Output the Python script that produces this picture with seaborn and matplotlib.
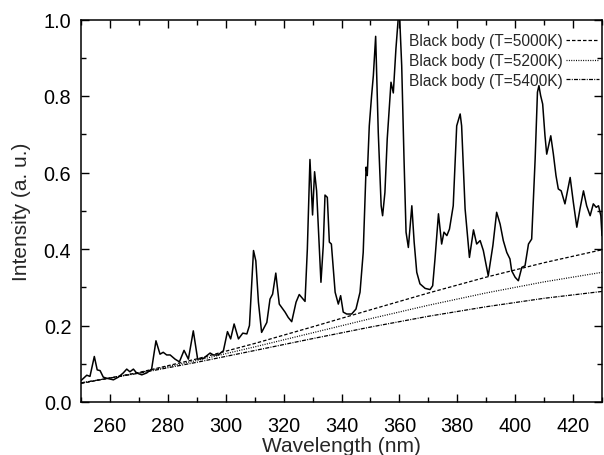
import matplotlib
matplotlib.use("Agg")
import matplotlib.pyplot as plt
import seaborn as sns
import pandas as pd
from matplotlib.ticker import MultipleLocator

# Measured emission spectrum
wavelength = [
    250.0, 252.0, 253.1, 254.6, 255.6, 256.6, 257.7, 258.9, 260.0, 261.2,
    262.9, 264.6, 265.8, 266.9, 268.1, 269.2, 271.0, 272.7, 274.4, 275.9,
    277.3, 278.4, 279.6, 280.8, 282.5, 284.0, 285.6, 287.1, 288.8, 290.3,
    292.3, 294.6, 295.7, 297.4, 299.2, 300.6, 301.7, 302.9, 304.4, 305.9,
    307.3, 308.2, 309.6, 310.4, 311.3, 312.4, 314.2, 315.3, 316.2, 317.3,
    318.5, 320.5, 321.6, 322.8, 324.3, 325.4, 327.4, 328.2, 329.1, 330.0,
    330.7, 331.4, 332.9, 333.7, 334.3, 335.1, 335.8, 336.5, 337.8, 338.9,
    339.7, 340.6, 341.8, 343.5, 345.0, 346.4, 347.5, 348.5, 348.9, 349.6,
    350.4, 351.0, 351.8, 352.7, 353.7, 354.2, 355.0, 355.8, 356.7, 357.1,
    357.9, 358.8, 359.5, 359.9, 360.8, 361.6, 362.3, 363.1, 364.3, 365.1,
    366.0, 367.1, 368.9, 370.6, 371.5, 372.3, 373.5, 374.6, 375.4, 376.4,
    377.3, 378.6, 379.8, 381.0, 381.5, 382.7, 384.2, 385.6, 386.7, 387.9,
    389.0, 390.7, 392.3, 393.6, 394.8, 395.9, 397.1, 398.2, 398.8, 400.0,
    401.1, 402.3, 403.4, 404.6, 405.7, 406.9, 407.7, 408.2, 408.8, 409.5,
    410.3, 410.9, 412.3, 413.2, 414.1, 414.9, 415.9, 417.2, 419.0, 420.1,
    421.3, 422.4, 423.6, 424.7, 425.9, 427.0, 428.0, 428.8, 429.6, 430.0,
]
intensity = [
    0.056, 0.070, 0.067, 0.119, 0.084, 0.082, 0.065, 0.062, 0.060, 0.058,
    0.065, 0.076, 0.086, 0.079, 0.086, 0.076, 0.071, 0.076, 0.086, 0.160,
    0.125, 0.130, 0.123, 0.123, 0.112, 0.105, 0.135, 0.112, 0.186, 0.112,
    0.114, 0.128, 0.123, 0.123, 0.134, 0.184, 0.165, 0.204, 0.165, 0.180,
    0.178, 0.200, 0.396, 0.369, 0.261, 0.182, 0.208, 0.269, 0.282, 0.337,
    0.256, 0.235, 0.221, 0.210, 0.261, 0.281, 0.263, 0.400, 0.634, 0.489,
    0.602, 0.552, 0.313, 0.409, 0.541, 0.535, 0.418, 0.413, 0.287, 0.256,
    0.278, 0.235, 0.230, 0.230, 0.243, 0.287, 0.391, 0.614, 0.592, 0.722,
    0.801, 0.853, 0.956, 0.705, 0.513, 0.487, 0.548, 0.688, 0.792, 0.836,
    0.808, 0.923, 0.993, 1.040, 0.879, 0.635, 0.444, 0.404, 0.513, 0.418,
    0.339, 0.309, 0.297, 0.294, 0.304, 0.374, 0.492, 0.413, 0.444, 0.435,
    0.452, 0.513, 0.722, 0.753, 0.722, 0.505, 0.378, 0.450, 0.413, 0.422,
    0.396, 0.330, 0.409, 0.496, 0.465, 0.422, 0.391, 0.374, 0.343, 0.326,
    0.317, 0.352, 0.356, 0.413, 0.426, 0.635, 0.810, 0.827, 0.801, 0.779,
    0.696, 0.648, 0.696, 0.648, 0.592, 0.557, 0.552, 0.518, 0.587, 0.522,
    0.457, 0.505, 0.552, 0.513, 0.487, 0.518, 0.509, 0.513, 0.487, 0.435,
]

# Black-body reference curves (normalised), sampled every 20 nm
bb_wavelength = [250, 270, 290, 310, 330, 350, 370, 390, 410, 430]
bb_5000 = [0.0484, 0.0772, 0.1126, 0.1530, 0.1965, 0.2410, 0.2849, 0.3264, 0.3642, 0.398]
bb_5200 = [0.0495, 0.0765, 0.1086, 0.1441, 0.1809, 0.2178, 0.2529, 0.2852, 0.3141, 0.339]
bb_5400 = [0.0501, 0.0752, 0.1038, 0.1346, 0.1657, 0.1959, 0.2241, 0.2491, 0.2711, 0.289]

bb_labels = ["Black body (T=5000K)", "Black body (T=5200K)", "Black body (T=5400K)"]
x_ticks = [260, 280, 300, 320, 340, 360, 380, 400, 420]
y_ticks = [0.0, 0.2, 0.4, 0.6, 0.8, 1.0]

sns.set_style("ticks")
plt.rcParams["font.family"] = ["Liberation Sans", "DejaVu Sans"]

fig = plt.figure(figsize=(6.04, 4.56), dpi=100)
ax = fig.add_axes([81 / 604, 53 / 456, 521 / 604, 382.5 / 456])

spec = pd.DataFrame({"wl": wavelength, "I": intensity})
sns.lineplot(data=spec, x="wl", y="I", ax=ax, color="black", lw=1.1,
             estimator=None, sort=True, legend=False)

bb = pd.DataFrame({"wl": bb_wavelength, "5000": bb_5000,
                   "5200": bb_5200, "5400": bb_5400})
styles = [(0, (2.8, 1.6)), (0, (0.8, 1.1)), (0, (3.2, 1.0, 0.8, 1.0))]
for col, lab, ls in zip(["5000", "5200", "5400"], bb_labels, styles):
    sns.lineplot(data=bb, x="wl", y=col, ax=ax, color="black", lw=0.9,
                 linestyle=ls, estimator=None, label=lab)

ax.set_xlim(250, 430)
ax.set_ylim(0, 1.0)
ax.set_xticks(x_ticks)
ax.set_yticks(y_ticks)
ax.set_yticklabels([f"{v:.1f}" for v in y_ticks])
ax.xaxis.set_minor_locator(MultipleLocator(10))
ax.yaxis.set_minor_locator(MultipleLocator(0.1))
ax.tick_params(which="both", direction="in", top=True, right=True,
               width=1.0, color="black", labelsize=14.3, labelcolor="black")
ax.tick_params(which="major", length=6)
ax.tick_params(which="minor", length=3.5)
ax.tick_params(axis="y", which="major", pad=7)
ax.tick_params(axis="x", which="major", pad=10)
for s in ax.spines.values():
    s.set_linewidth(1.1)
    s.set_color("black")

ax.set_xlabel("Wavelength (nm)", fontsize=15, labelpad=0.5)
ax.set_ylabel("Intensity (a. u.)", fontsize=15, labelpad=9)

ax.legend(loc="upper right", bbox_to_anchor=(1.0, 0.972), frameon=False,
          markerfirst=False, fontsize=11.2, handlelength=2.1,
          handletextpad=0.2, labelspacing=0.3, borderpad=0.2,
          borderaxespad=0.0)

fig.savefig("out.png", dpi=100)
